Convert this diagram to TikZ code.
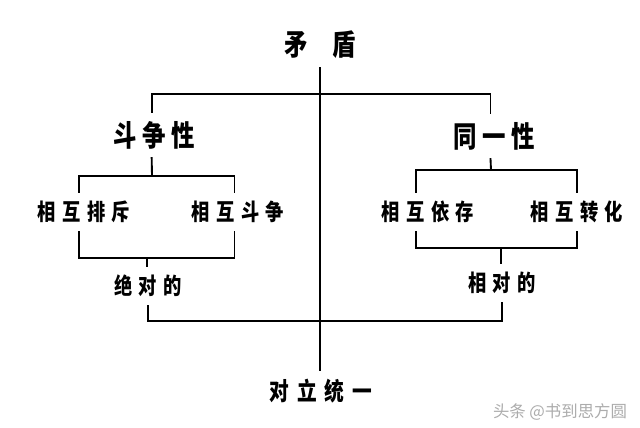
\documentclass[tikz,border=0pt]{standalone}
\usepackage{fontspec}
\newfontfamily\hei[FakeStretch=0.8]{Noto Sans CJK SC}
\newfontfamily\wmfont{Noto Sans CJK SC}
\usetikzlibrary{calc}

\begin{document}
\begin{tikzpicture}[x=0.03cm,y=-0.03cm,
    bar/.style={line width=1.6pt,black},
    lbl/.style={inner sep=0pt,outer sep=7pt},
    toplbl/.style={lbl,font=\hei\bfseries\fontsize{25pt}{25pt}\selectfont\addfontfeature{LetterSpace=83}},
    midlbl/.style={lbl,font=\hei\bfseries\fontsize{25pt}{25pt}\selectfont\addfontfeature{LetterSpace=19}},
    sublbl/.style={lbl,font=\hei\bfseries\fontsize{19.5pt}{19.5pt}\selectfont\addfontfeature{LetterSpace=28}},
    endlbl/.style={lbl,font=\hei\bfseries\fontsize{21pt}{21pt}\selectfont\addfontfeature{LetterSpace=32}}]
  \useasboundingbox[fill=white] (0,0) rectangle (640,428);
  % labels
  \node[toplbl] (md) at (320,45) {矛盾};
  \node[midlbl] (dzx) at (154,135) {斗争性};
  \node[midlbl] (tyx) at (494,136) {同一性};
  \node[sublbl] (pc) at (84,212) {相互排斥};
  \node[sublbl] (dz) at (238,212) {相互斗争};
  \node[sublbl] (yc) at (428,212) {相互依存};
  \node[sublbl] (zh) at (577,212) {相互转化};
  \node[sublbl] (jd) at (148,286) {绝对的};
  \node[sublbl] (xd) at (502,283) {相对的};
  \node[endlbl] (dl) at (321,391) {对立统一};
  \node[font=\wmfont\fontsize{14pt}{14pt}\selectfont,text=gray!65] (wm) at (560,412) {头条 @书到思方圆};
  % bar joints
  \coordinate (topbar) at (320,94);
  \coordinate (subL) at (152,176);
  \coordinate (lowL) at (147,258);
  \coordinate (subR) at (491,170);
  \coordinate (lowR) at (501,248);
  \coordinate (botbar) at (320,321);
  % main axis
  \draw[bar] (md.south) -- (md.south |- dl.north);
  % top bracket
  \draw[bar] ([xshift=-2]dzx.north) |- (topbar) -| ([xshift=-3]tyx.north);
  % struggle side
  \draw[bar] ([xshift=-2]dzx.south) -- (subL);
  \draw[bar] ([xshift=-4]pc.north) |- (subL) -| ([xshift=-3]dz.north);
  \draw[bar] ([xshift=-4]pc.south) |- (lowL) -| ([xshift=-3]dz.south);
  \draw[bar] (lowL) -- (lowL |- jd.north);
  % identity side
  \draw[bar] ([xshift=-3]tyx.south) -- (subR);
  \draw[bar] ([xshift=-10]yc.north) |- (subR) -| (zh.north);
  \draw[bar] ([xshift=-10]yc.south) |- (lowR) -| (zh.south);
  \draw[bar] (lowR) -- (lowR |- xd.north);
  % bottom bracket
  \draw[bar] (jd.south) |- (botbar) -| (xd.south);
\end{tikzpicture}
\end{document}
